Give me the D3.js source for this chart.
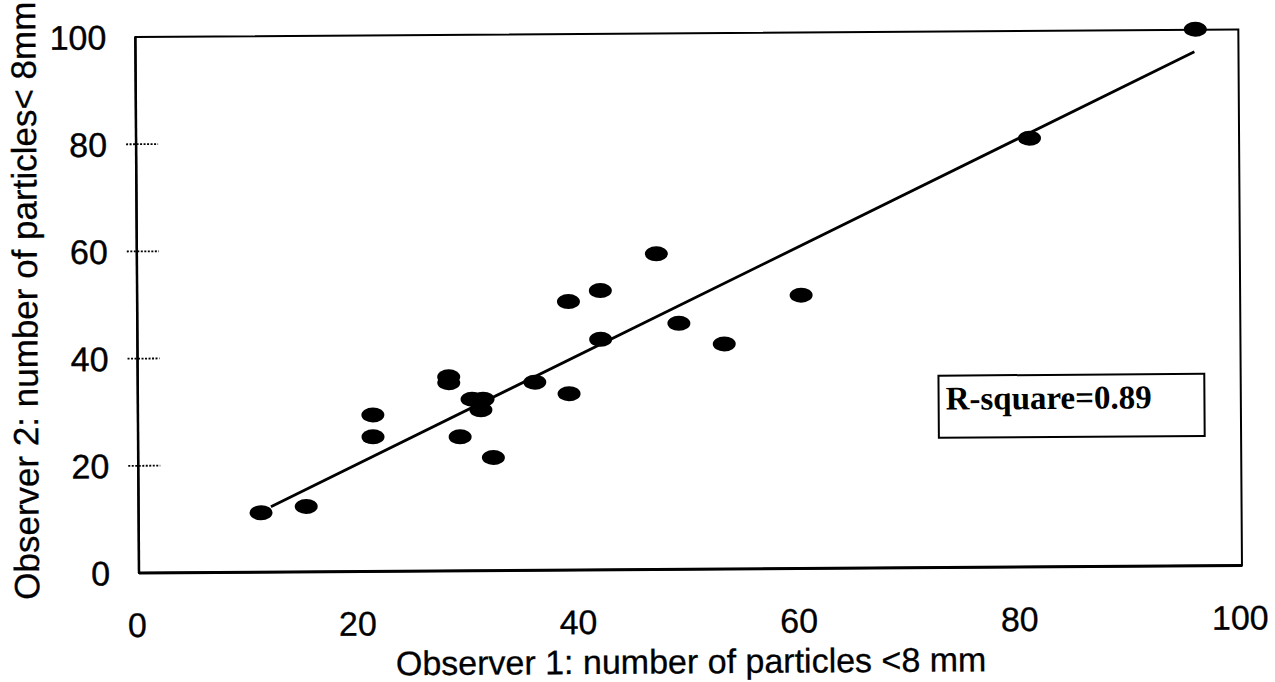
<!DOCTYPE html>
<html>
<head>
<meta charset="utf-8">
<title>Observer agreement</title>
<style>
  body { margin: 0; background: #fff; }
</style>
</head>
<body>
<svg></svg>
<script src="https://d3js.org/d3.v7.min.js"></script>
<script>
// values
var obs1 = [11.1, 15.2, 21.3, 21.3, 28.2, 28.2, 29.2, 30.3, 31.3, 31.1, 32.2, 36.0, 39.1, 39.1, 42.0, 42.0, 47.1, 49.1, 53.2, 60.2, 81.0, 96.1];
var obs2 = [11.1, 12.2, 29.2, 25.1, 36.2, 35.1, 25.0, 32.0, 32.0, 30.0, 21.1, 35.1, 32.9, 50.1, 52.1, 43.0, 58.9, 45.9, 42.0, 51.0, 80.0, 100.1];
var fitX = [12, 96];
var fitY = [12.2, 95.9];
var xTicks = [0, 20, 40, 60, 80, 100];
var yTicks = [0, 20, 40, 60, 80, 100];
var rsqLabel = "R-square=0.89";

var width = 1275, height = 682;
var svg = d3.select("svg").attr("width", width).attr("height", height);

var x = d3.scaleLinear().domain([0, 100]).range([139, 1242]);
var y = d3.scaleLinear().domain([0, 100]).range([573, 37]);

// the scan is tilted a little, so the whole chart is turned about its origin
var g = svg.append("g")
    .attr("transform", "rotate(-0.39," + x(0) + "," + y(0) + ")");

var sans = "'Liberation Sans', Arial, sans-serif";

// frame
g.append("rect")
    .attr("x", x(0)).attr("y", y(100))
    .attr("width", x(100) - x(0)).attr("height", y(0) - y(100))
    .attr("fill", "none").attr("stroke", "#000").attr("stroke-width", 2);
g.append("line")
    .attr("x1", x(0)).attr("x2", x(100)).attr("y1", y(0)).attr("y2", y(0))
    .attr("stroke", "#000").attr("stroke-width", 3);
g.append("line")
    .attr("x1", x(0)).attr("x2", x(0)).attr("y1", y(0)).attr("y2", y(100))
    .attr("stroke", "#000").attr("stroke-width", 2.5);

// dotted y tick marks
g.selectAll("line.ytick")
    .data(yTicks.filter(function(d) { return d > 0 && d < 100; }))
    .enter().append("line")
    .attr("class", "ytick")
    .attr("x1", x(0) - 10).attr("x2", x(0) + 22)
    .attr("y1", function(d) { return y(d); })
    .attr("y2", function(d) { return y(d); })
    .attr("stroke", "#000").attr("stroke-width", 1.8)
    .attr("stroke-dasharray", "2,1.5");

// y tick labels
g.selectAll("text.ylab")
    .data(yTicks)
    .enter().append("text")
    .attr("class", "ylab")
    .attr("x", x(0) - 29)
    .attr("y", function(d) { return y(d); })
    .attr("dy", "0.36em")
    .attr("text-anchor", "end")
    .style("font-family", sans).style("font-size", "34px")
    .style("stroke", "#000").style("stroke-width", 0.4)
    .text(function(d) { return d; });

// x tick labels
g.selectAll("text.xlab")
    .data(xTicks)
    .enter().append("text")
    .attr("class", "xlab")
    .attr("x", function(d) { return x(d) - 2; })
    .attr("y", y(0) + 64)
    .attr("text-anchor", "middle")
    .style("font-family", sans).style("font-size", "34px")
    .style("stroke", "#000").style("stroke-width", 0.3)
    .text(function(d) { return d; });

// axis titles
g.append("text")
    .attr("x", x(50)).attr("y", y(0) + 104)
    .attr("text-anchor", "middle")
    .style("font-family", sans).style("font-size", "34px")
    .style("stroke", "#000").style("stroke-width", 0.3)
    .text("Observer 1: number of particles <8 mm");

g.append("text")
    .attr("transform", "translate(39," + (y(50) - 5) + ") rotate(-90)")
    .attr("text-anchor", "middle")
    .style("font-family", sans).style("font-size", "35px")
    .style("stroke", "#000").style("stroke-width", 0.3)
    .text("Observer 2: number of particles< 8mm");

// fitted line
g.append("line")
    .attr("x1", x(fitX[0])).attr("y1", y(fitY[0]))
    .attr("x2", x(fitX[1])).attr("y2", y(fitY[1]))
    .attr("stroke", "#000").attr("stroke-width", 2.8);

// points
g.selectAll("ellipse")
    .data(obs1)
    .enter().append("ellipse")
    .attr("cx", function(d) { return x(d); })
    .attr("cy", function(d, i) { return y(obs2[i]); })
    .attr("rx", 11.5).attr("ry", 7.5)
    .attr("fill", "#000");

// R-square box
var bx = x(72.6), by = y(35.8);
g.append("rect")
    .attr("x", bx).attr("y", by)
    .attr("width", x(96.7) - x(72.6)).attr("height", y(24.2) - y(35.8))
    .attr("fill", "#fff").attr("stroke", "#000").attr("stroke-width", 2);
g.append("text")
    .attr("x", bx + 7).attr("y", by + 34)
    .style("font-family", "'Liberation Serif', 'Times New Roman', serif")
    .style("font-size", "33px").style("font-weight", "bold")
    .text(rsqLabel);
</script>
</body>
</html>
